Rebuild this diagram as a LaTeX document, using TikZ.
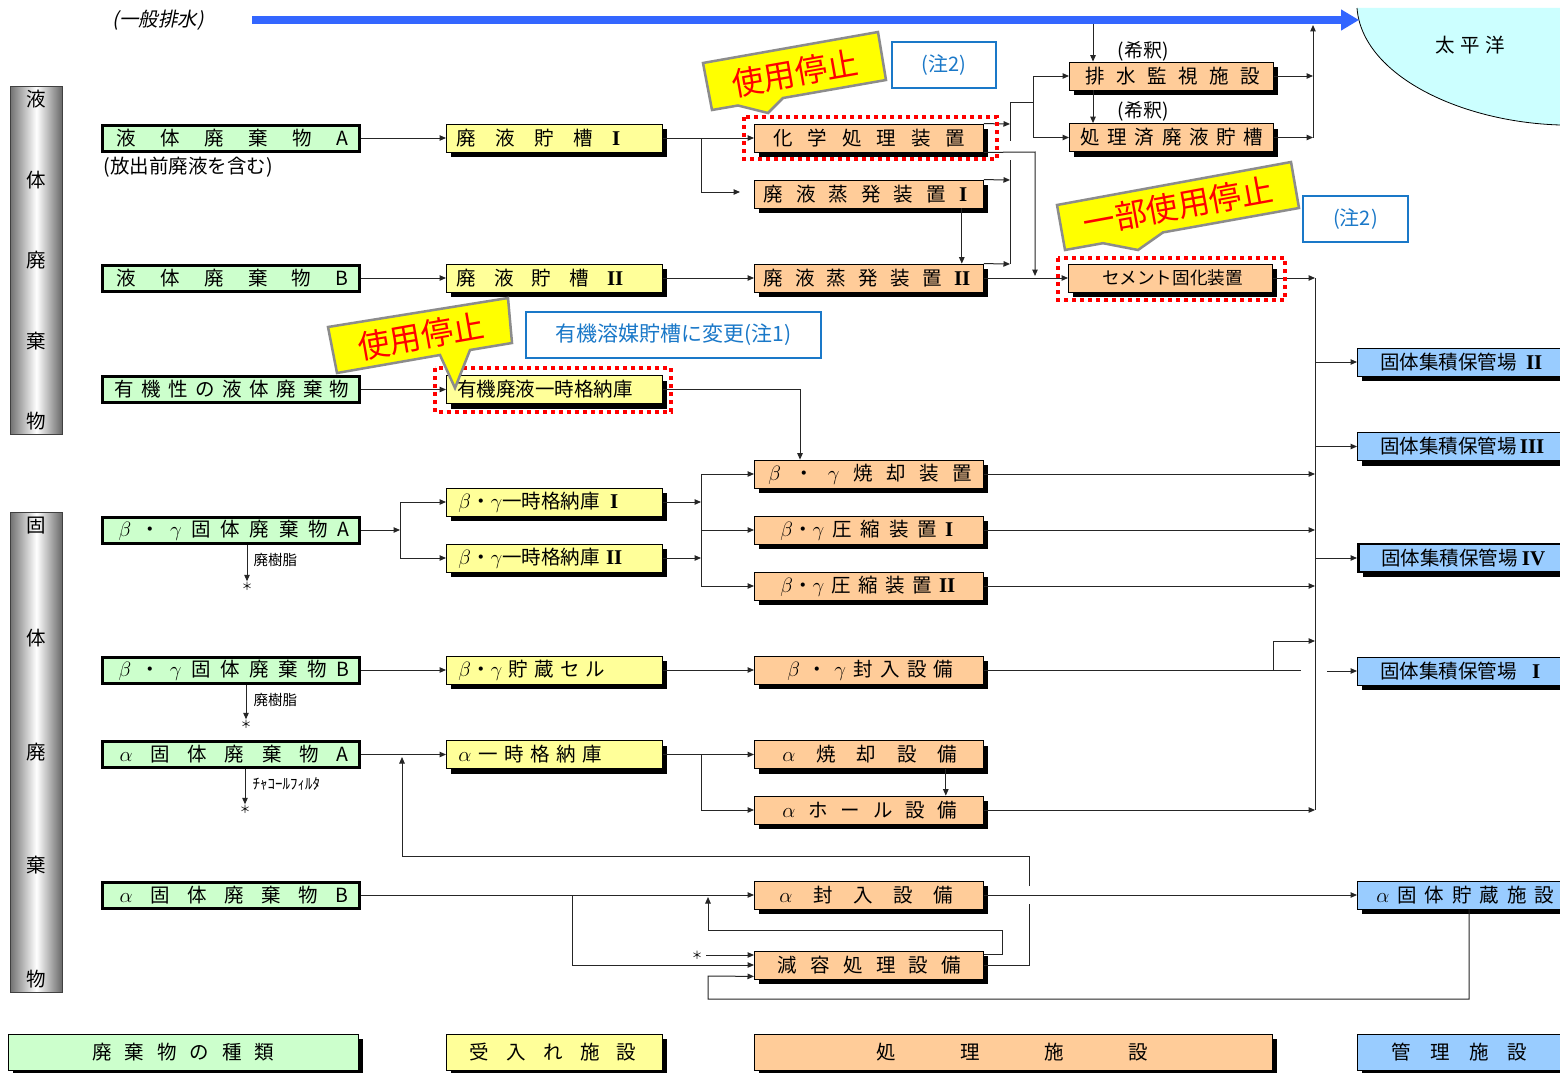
\documentclass[tikz,border=0pt]{standalone}
\usepackage{fontspec}
\setmainfont{Noto Sans CJK JP}
\newfontfamily\jpit{Noto Sans CJK JP}[FakeSlant=0.2]
\newfontfamily\rnfont{Liberation Serif}
\newcommand\rn[1]{{\rnfont\bfseries\fontsize{21}{21}\selectfont #1}}
\usetikzlibrary{arrows.meta,shadows,calc}
\definecolor{kindc}{HTML}{CCFFCC}
\definecolor{recvc}{HTML}{FFFF99}
\definecolor{procc}{HTML}{FFCC99}
\definecolor{mgmtc}{HTML}{99CCFF}
\definecolor{pacc}{HTML}{CCFFFF}
\definecolor{flowc}{HTML}{3366FF}
\definecolor{notec}{HTML}{1A78C8}
\definecolor{calloutc}{HTML}{FFFF00}
\newcommand\fsz[1]{\fontsize{#1}{#1}\selectfont}
\newcommand\boxtxt[4]{\makebox[#1pt][l]{\hspace*{#2pt}\makebox[#3pt][s]{#4}}}
\tikzset{
  wbox/.style={rectangle, draw=black, line width=.8pt, inner sep=0pt, minimum height=28pt, anchor=west, font=\fsz{19.5}},
  shad/.style={general shadow={fill=black, shadow xshift=5pt, shadow yshift=-5pt}},
  kindbox/.style={wbox, fill=kindc, line width=3pt, minimum height=26pt},
  recvbox/.style={wbox, fill=recvc, shad},
  procbox/.style={wbox, fill=procc, shad},
  mgmtbox/.style={wbox, fill=mgmtc, shad},
  legbox/.style={wbox, shad, minimum height=36pt},
  barbox/.style={rectangle, anchor=north west, minimum width=52pt, inner sep=0pt, align=center, left color=black!55, right color=black!60, middle color=white, draw=black!75, line width=.8pt},
  arr/.style={-{Triangle[length=6.5pt,width=5.5pt]}},
  conn/.style={draw=black!85, line width=1pt},
  reddot/.style={draw=red, line width=4pt, dash pattern=on 4pt off 4pt},
  callbox/.style={fill=calloutc, draw=black!45, line width=2.5pt, line join=miter},
  callt/.style={text=red, font=\fsz{32}, inner sep=0pt},
  notebox/.style={rectangle, draw=notec, line width=2pt, text=notec, inner sep=0pt, font=\fsz{20}},
  smalltxt/.style={inner sep=0pt, anchor=west, font=\fsz{14.5}},
  starn/.style={inner sep=0pt, font=\fsz{11}},
}
\begin{document}
\begin{tikzpicture}[x=1pt,y=-1pt,line width=1pt]
\useasboundingbox (0,0) rectangle (1560,1073);
\clip (0,0) rectangle (1560,1073);
\fill[white] (0,0) rectangle (1560,1073);

% Pacific
\fill[pacc] (1357,8) .. controls (1362,75) and (1460,122) .. (1560,125) -- (1562,8) -- cycle;
\draw[line width=.8pt] (1357,8) .. controls (1362,75) and (1460,122) .. (1560,125);
\node[font=\fsz{19.5}] (pac) at (1470,45) {\makebox[70pt][s]{太 平 洋}};

% general drain
\node[font={\jpit\fsz{19.5}}] (gd) at (158,20) {(一般排水)};
\coordinate (flowS) at (252,20);
\coordinate (flowE) at (1359,20);
\draw[flowc, line width=8pt, -{Triangle[length=18pt,width=20pt]}] (flowS) -- (flowE);

% side bars
\node[barbox, minimum height=348pt, font=\fontsize{19.5}{80.5}\selectfont] (liqbar) at (10,86) {液\\体\\廃\\棄\\物};
\node[barbox, minimum height=480pt, font=\fontsize{19.5}{113.5}\selectfont] (solbar) at (10,512) {固\\体\\廃\\棄\\物};

% waste kinds
\node[kindbox] (lA) at (101,138) {\boxtxt{257}{14}{232}{液 体 廃 棄 物 A}};
\node[font=\fsz{19.5}, anchor=west, inner sep=0pt] (lAnote) at (103,167) {(放出前廃液を含む)};
\node[kindbox] (lB) at (101,278) {\boxtxt{257}{14}{232}{液 体 廃 棄 物 B}};
\node[kindbox] (lO) at (101,389.5) {\boxtxt{257}{12}{235}{有 機 性 の 液 体 廃 棄 物}};
\node[kindbox] (sA) at (101,530) {\boxtxt{257}{16}{231}{$\beta$ ・ $\gamma$ 固 体 廃 棄 物 A}};
\node[kindbox] (sB) at (101,670) {\boxtxt{257}{16}{231}{$\beta$ ・ $\gamma$ 固 体 廃 棄 物 B}};
\node[kindbox] (aA) at (101,754.5) {\boxtxt{257}{17}{229}{$\alpha$ 固 体 廃 棄 物 A}};
\node[kindbox] (aB) at (101,895) {\boxtxt{257}{17}{229}{$\alpha$ 固 体 廃 棄 物 B}};

% receiving
\node[recvbox] (t1) at (446,138) {\boxtxt{216}{10}{164}{廃 液 貯 槽 \rn{I}}};
\node[recvbox] (t2) at (446,278) {\boxtxt{216}{10}{167}{廃 液 貯 槽 \rn{II}}};
\node[recvbox] (to) at (446,389.5) {\boxtxt{216}{11}{180}{有機廃液一時格納庫}};
\node[recvbox] (bg1) at (446,502) {\boxtxt{216}{12}{160}{$\beta$・$\gamma$一時格納庫 \rn{I}}};
\node[recvbox] (bg2) at (446,558) {\boxtxt{216}{12}{164}{$\beta$・$\gamma$一時格納庫 \rn{II}}};
\node[recvbox] (bgc) at (446,670) {\boxtxt{216}{12}{147}{$\beta$・$\gamma$ 貯 蔵 セ ル}};
\node[recvbox] (a1) at (446,754.5) {\boxtxt{216}{12}{144}{$\alpha$ 一 時 格 納 庫}};

% processing
\node[procbox] (chem) at (754,138) {\boxtxt{229}{19}{192}{化 学 処 理 装 置}};
\node[procbox] (ev1) at (754,194) {\boxtxt{229}{9}{204}{廃 液 蒸 発 装 置 \rn{I}}};
\node[procbox] (ev2) at (754,278) {\boxtxt{229}{9}{207}{廃 液 蒸 発 装 置 \rn{II}}};
\node[procbox] (bgi) at (754,474) {\boxtxt{229}{14}{204}{$\beta$ ・ $\gamma$ 焼 却 装 置}};
\node[procbox] (bgk1) at (754,530) {\boxtxt{229}{26}{173}{$\beta$・$\gamma$ 圧 縮 装 置 \rn{I}}};
\node[procbox] (bgk2) at (754,586) {\boxtxt{229}{26}{175}{$\beta$・$\gamma$ 圧 縮 装 置 \rn{II}}};
\node[procbox] (bgf) at (754,670) {\boxtxt{229}{33}{166}{$\beta$ ・ $\gamma$ 封 入 設 備}};
\node[procbox] (ai) at (754,754.5) {\boxtxt{229}{28}{175}{$\alpha$ 焼 却 設 備}};
\node[procbox] (ah) at (754,810) {\boxtxt{229}{28}{175}{$\alpha$ ホ ー ル 設 備}};
\node[procbox] (af) at (754,895) {\boxtxt{229}{25}{174}{$\alpha$ 封 入 設 備}};
\node[procbox] (gen) at (754,965) {\boxtxt{229}{23}{184}{減 容 処 理 設 備}};
\node[procbox] (haisui) at (1069,76) {\boxtxt{204}{16}{175}{排 水 監 視 施 設}};
\node[procbox] (shori) at (1069,137.5) {\boxtxt{204}{11}{183}{処 理 済 廃 液 貯 槽}};
\node[procbox] (cement) at (1068,278) {\boxtxt{204}{34}{141}{\fsz{17.6}セメント固化装置}};

% management
\node[mgmtbox] (k2) at (1357,362) {\boxtxt{204}{23}{162}{固体集積保管場 \rn{II}}};
\node[mgmtbox] (k3) at (1357,446.5) {\boxtxt{204}{23}{164}{固体集積保管場 \rn{III}}};
\node[mgmtbox, line width=2.5pt] (k4) at (1357,558) {\boxtxt{204}{23}{164}{固体集積保管場 \rn{IV}}};
\node[mgmtbox] (k1) at (1357,671) {\boxtxt{204}{23}{160}{固体集積保管場 \rn{I}}};
\node[mgmtbox] (ak) at (1357,895) {\boxtxt{204}{19}{178}{$\alpha$ 固 体 貯 蔵 施 設}};

% legend
\node[legbox, fill=kindc] (lgK) at (8,1052) {\boxtxt{350}{84}{182}{廃 棄 物 の 種 類}};
\node[legbox, fill=recvc] (lgR) at (446,1052) {\boxtxt{216}{23}{167}{受 入 れ 施 設}};
\node[legbox, fill=procc] (lgP) at (754,1052) {\boxtxt{518}{122}{272}{処 理 施 設}};
\node[legbox, fill=mgmtc] (lgM) at (1357,1052) {\boxtxt{204}{34}{136}{管 理 施 設}};

% ---- liquid connectors
\coordinate (j1) at (701,138);
\coordinate (ev1in) at (740,192);
\draw[conn,arr] (lA.east) -- (t1.west);
\draw[conn,arr] (t1.east) -- (chem.west);
\draw[conn,arr] (j1) |- (ev1in);
\draw[conn,arr] (lB.east) -- (t2.west);
\draw[conn,arr] (t2.east) -- (ev2.west);
\draw[conn,arr] ([xshift=-22pt]ev1.south east) -- ([xshift=-22pt]ev2.north east);
\coordinate (m1) at (1010,124);
\coordinate (m2) at (1010,180);
\coordinate (m3) at (1010,264);
\coordinate (mtop) at (1010,102);
\coordinate (mgap1) at (1010,141);
\coordinate (mgap2) at (1010,160);
\draw[conn,arr] (chem.north east) -- (m1);
\draw[conn,arr] (ev1.north east) -- (m2);
\draw[conn,arr] (ev2.north east) -- (m3);
\draw[conn] (mtop) -- (mgap1);
\draw[conn] (mgap2) -- (m3);
\coordinate (d1) at (1033,102);
\coordinate (d2) at (1033,76);
\coordinate (d3) at (1033,137.5);
\draw[conn] (mtop) -- (d1);
\draw[conn] (d2) -- (d3);
\draw[conn,arr] (d2) -- (haisui.west);
\draw[conn,arr] (d3) -- (shori.west);
\coordinate (c1) at (1035,152);
\coordinate (c2) at (1035,276);
\draw[conn,arr] (chem.south east) -- (c1) -- (c2);
\draw[conn,arr] (ev2.east) -- (cement.west);
\coordinate (o1) at (1313,76);
\coordinate (o2) at (1313,137.5);
\coordinate (o3) at (1313,25);
\draw[conn,arr] (haisui.east) -- (o1);
\draw[conn,arr] (shori.east) -- (o2);
\draw[conn,arr] (o2) -- (o3);
\coordinate (dil) at (1093,24);
\draw[conn,arr] (dil) -- ([xshift=24pt]haisui.north west);
\draw[conn,arr] ([xshift=24pt]haisui.south west) -- ([xshift=24pt]shori.north west);
\node[font=\fsz{19}] (dl1) at (1143,51) {(希釈)};
\node[font=\fsz{19}] (dl2) at (1143,111) {(希釈)};

% ---- solid bus
\coordinate (sb1) at (1315,278);
\coordinate (sb2) at (1315,810);
\draw[conn,arr] (cement.east) -- (sb1);
\draw[conn] (sb1) -- (sb2);
\draw[conn,arr] (sb1 |- k2.west) -- (k2.west);
\draw[conn,arr] (sb1 |- k3.west) -- (k3.west);
\draw[conn,arr] (sb1 |- k4.west) -- (k4.west);
\draw[conn,arr] (bgi.east) -- (bgi.east -| sb1);
\draw[conn,arr] (bgk1.east) -- (bgk1.east -| sb1);
\draw[conn,arr] (bgk2.east) -- (bgk2.east -| sb1);
\draw[conn,arr] (ah.east) -- (ah.east -| sb1);
\coordinate (f1) at (1301,670);
\coordinate (f2) at (1273,670);
\coordinate (f3) at (1273,641);
\draw[conn] (bgf.east) -- (f1);
\draw[conn,arr] (f2) -- (f3) -- (f3 -| sb1);
\coordinate (k1in) at (1327,671);
\draw[conn,arr] (k1in) -- (k1.west);

% organic
\draw[conn,arr] (lO.east) -- (to.west);
\draw[conn,arr] (to.east) -| ([xshift=46pt]bgi.north west);

% beta gamma A
\coordinate (b1) at (400,530);
\coordinate (b2) at (400,502);
\coordinate (b3) at (400,558);
\draw[conn,arr] (sA.east) -- (b1);
\draw[conn] (b2) -- (b3);
\draw[conn,arr] (b2) -- (bg1.west);
\draw[conn,arr] (b3) -- (bg2.west);
\coordinate (q1) at (701,474);
\coordinate (q2) at (701,586);
\draw[conn,arr] (bg1.east) -- (bg1.east -| q1);
\draw[conn,arr] (bg2.east) -- (bg2.east -| q1);
\draw[conn] (q1) -- (q2);
\draw[conn,arr] (q1) -- (bgi.west);
\draw[conn,arr] (q1 |- bgk1.west) -- (bgk1.west);
\draw[conn,arr] (q2) -- (bgk2.west);

% resin / filter
\node[starn] (st1) at (247,586) {＊};
\draw[conn,arr] (sA.south -| st1) -- (st1.north);
\node[smalltxt] (r1) at (253,560) {廃樹脂};
\node[starn] (st2) at (246,724) {＊};
\draw[conn,arr] (sB.south -| st2) -- (st2.north);
\node[smalltxt] (r2) at (253,700) {廃樹脂};
\node[starn] (st3) at (245,809) {＊};
\draw[conn,arr] (aA.south -| st3) -- (st3.north);
\node[smalltxt, font=\fsz{15}] (r3) at (252,784) {ﾁｬｺｰﾙﾌｨﾙﾀ};

% beta gamma B
\draw[conn,arr] (sB.east) -- (bgc.west);
\draw[conn,arr] (bgc.east) -- (bgf.west);

% alpha A
\draw[conn,arr] (aA.east) -- (a1.west);
\draw[conn,arr] (a1.east) -- (ai.west);
\coordinate (p1) at (701,754.5);
\draw[conn,arr] (p1) |- (ah.west);
\draw[conn,arr] ([xshift=-38pt]ai.south east) -- ([xshift=-38pt]ah.north east);
\coordinate (rA) at (1029,965);
\coordinate (rB) at (1029,904);
\coordinate (rC) at (1029,886);
\coordinate (rD) at (1029,856);
\coordinate (rE) at (402,856);
\coordinate (rF) at (402,757);
\draw[conn] (gen.east) -- (rA) -- (rB);
\draw[conn,arr] (rC) -- (rD) -- (rE) -- (rF);

% alpha B
\draw[conn,arr] (aB.east) -- (af.west);
\coordinate (u1) at (572,895);
\draw[conn,arr] (u1) |- (gen.west);
\coordinate (v2) at (1002,930);
\coordinate (v3) at (708,930);
\coordinate (v4) at (708,897);
\draw[conn,arr] ([yshift=-4pt]gen.north east) -| (v2) -- (v3) -- (v4);
\node[starn] (st4) at (697,955) {＊};
\coordinate (g955) at (754,955);
\draw[conn,arr] ([xshift=3pt]st4.east |- g955) -- (g955);
\coordinate (z1) at (1469,999);
\coordinate (z2) at (708,999);
\coordinate (z3) at (708,976);
\draw[conn,arr] ([xshift=112pt]ak.south west) -- (z1) -- (z2) -- (z3) -- ([yshift=3pt]gen.south west);
\draw[conn,arr] (af.east) -- (ak.west);

% red dotted frames
\draw[reddot] (744,117) rectangle (997,159);
\draw[reddot] (435,368) rectangle (671,412);
\draw[reddot] (1058,258) rectangle (1285,300);

% callouts
\filldraw[callbox] (703,63) -- (878,32) -- (886,80) -- (783,98) -- (768,113) -- (738,105.5) -- (712,110) -- cycle;
\node[callt, rotate=10] (c1t) at (795,73) {使用停止};
\filldraw[callbox] (1057,205) -- (1291,162) -- (1299,208) -- (1163,232.4) -- (1138,250) -- (1103,243.2) -- (1065,250) -- cycle;
\node[callt, rotate=10.4] (c2t) at (1178,206) {一部使用停止};
\filldraw[callbox] (328,327) -- (508,298) -- (512,343) -- (470,350) -- (455,388) -- (440,355) -- (337,373) -- cycle;
\node[callt, rotate=10] (c3t) at (421,336) {使用停止};

% notes
\node[notebox, minimum width=104pt, minimum height=46pt] (n2a) at (944,65) {(注2)};
\node[notebox, minimum width=105pt, minimum height=46pt] (n2b) at (1355.5,219) {(注2)};
\node[notebox, minimum width=295pt, minimum height=46pt, font=\fsz{21}] (n1) at (673.5,335) {有機溶媒貯槽に変更(注1)};
\end{tikzpicture}
\end{document}
